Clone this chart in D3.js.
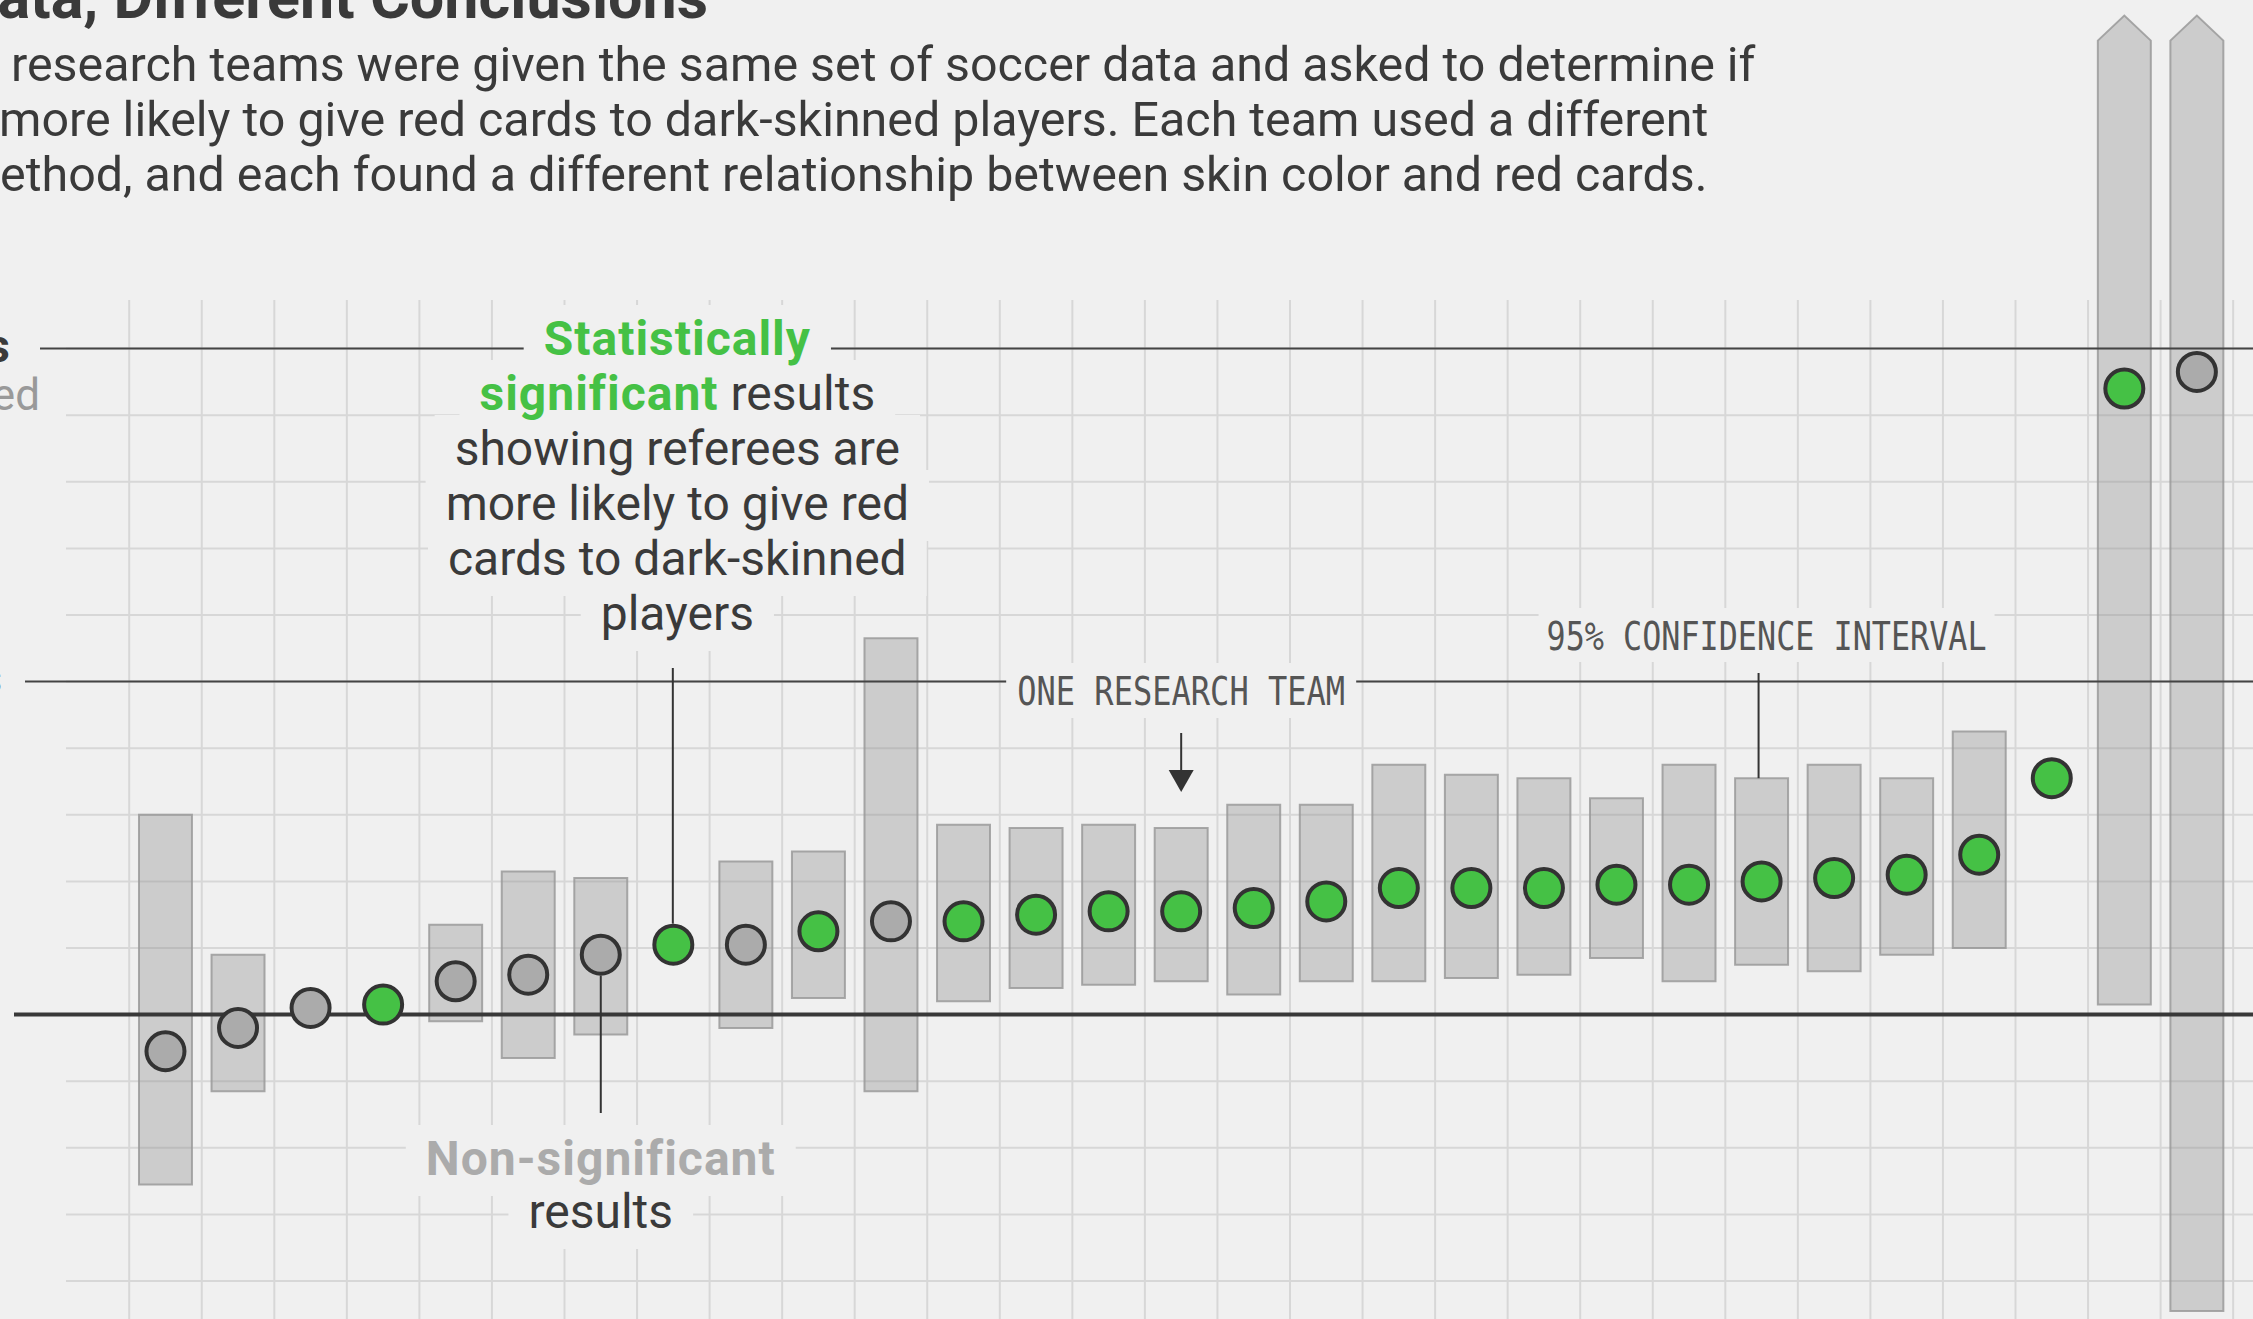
<!DOCTYPE html>
<html><head><meta charset="utf-8">
<script src="https://cdn.jsdelivr.net/npm/d3@7"></script>
<style>
html,body{margin:0;padding:0;background:#f0f0f0;overflow:hidden}
svg{display:block}
</style></head><body>
<svg id="chart" width="2253" height="1319"></svg>
<script>
// ---------------- DATA ----------------
const teams = ["1","2","3","4","5","6","7","8","9","10","11","12","13","14","15","16","17","18","19","20","21","22","23","24","25","26","27","28","29"];
const oddsRatio = [0.89,0.96,1.02,1.03,1.10,1.12,1.18,1.21,1.21,1.25,1.28,1.28,1.30,1.31,1.31,1.32,1.34,1.38,1.38,1.38,1.39,1.39,1.40,1.41,1.42,1.48,1.71,2.88,2.93];
const ciLow  = [0.49,0.77,null,null,0.98,0.87,0.94,null,0.96,1.05,0.77,1.04,1.08,1.09,1.10,1.06,1.10,1.10,1.11,1.12,1.17,1.10,1.15,1.13,1.18,1.20,null,1.03,0.11];
const ciHigh = [1.60,1.18,null,null,1.27,1.43,1.41,null,1.46,1.49,2.13,1.57,1.56,1.57,1.56,1.63,1.63,1.75,1.72,1.71,1.65,1.75,1.71,1.75,1.71,1.85,null,11.47,78.66];
const significant = [false,false,false,true,false,false,false,true,false,true,false,true,true,true,true,true,true,true,true,true,true,true,true,true,true,true,true,true,false];
const gridTicks = [0.2,0.4,0.6,0.8,1.0,1.2,1.4,1.6,1.8,2.0,2.2,2.4,2.6,2.8,3.0];
const refLines = [1,2,3];
const titleText = "Same Data, Different Conclusions";
const subtitleLines = [
  "Twenty-nine research teams were given the same set of soccer data and asked to determine if",
  "referees are more likely to give red cards to dark-skinned players. Each team used a different",
  "statistical method, and each found a different relationship between skin color and red cards."
];

// ---------------- LAYOUT ----------------
const W = 2253, H = 1319;
const BG = "#f0f0f0";
const GREEN = "#45c145";
const DARK = "#3a3a3a";
const SANS = "Roboto, 'Noto Sans', sans-serif";
const MONO = "'DejaVu Sans Mono', 'Liberation Mono', monospace";

const svg = d3.select("#chart");
svg.append("rect").attr("width", W).attr("height", H).attr("fill", BG);

const x = d3.scaleBand().domain(teams).range([129.2, 2233.15]).paddingInner(0.27).paddingOuter(0.135);
const y = d3.scaleLinear().domain([0, 4]).range([1347.6, 15.6]);
const yMax = y.domain()[1];
const cx = t => x(t) + x.bandwidth() / 2;

const data = teams.map((t, i) => ({t, or: oddsRatio[i], lo: ciLow[i], hi: ciHigh[i], sig: significant[i]}));

const gGrid = svg.append("g");
const gBars = svg.append("g");
const gRef = svg.append("g");
const gMask = svg.append("g");
const gText = svg.append("g");
const gLead = svg.append("g");
const gPts = svg.append("g");

// grid
gGrid.selectAll("line.h").data(gridTicks).join("line").attr("class", "h")
  .attr("x1", 66).attr("x2", W).attr("y1", d => y(d)).attr("y2", d => y(d))
  .attr("stroke", "#d7d7d7").attr("stroke-width", 2);
const vx = d3.range(teams.length + 1).map(i => x.range()[0] + i * x.step());
gGrid.selectAll("line.v").data(vx).join("line").attr("class", "v")
  .attr("x1", d => d).attr("x2", d => d).attr("y1", 300).attr("y2", H)
  .attr("stroke", "#d7d7d7").attr("stroke-width", 2);

// bars (95% CI)
function barPath(d) {
  const x0 = x(d.t), x1 = x0 + x.bandwidth(), yb = y(d.lo);
  if (d.hi <= yMax) {
    const yt = y(d.hi);
    return `M${x0},${yb}V${yt}H${x1}V${yb}Z`;
  }
  const yt = y(yMax), ys = yt + 25, xm = (x0 + x1) / 2;
  return `M${x0},${yb}V${ys}L${xm},${yt}L${x1},${ys}V${yb}Z`;
}
gBars.selectAll("path").data(data.filter(d => d.lo != null)).join("path")
  .attr("d", barPath)
  .attr("fill", "#8c8c8c").attr("fill-opacity", 0.36)
  .attr("stroke", "#9a9a9a").attr("stroke-width", 2).attr("stroke-opacity", 0.85);

// reference lines
const refStart = {1: 14, 2: 25, 3: 40};
gRef.selectAll("line").data(refLines).join("line")
  .attr("x1", d => refStart[d]).attr("x2", W)
  .attr("y1", d => y(d)).attr("y2", d => y(d))
  .attr("stroke", d => d === 1 ? "#383838" : "#444")
  .attr("stroke-width", d => d === 1 ? 4 : 2);

// title and subtitle
gText.append("text").attr("x", 708).attr("y", 18).attr("text-anchor", "end")
  .attr("font-family", SANS).attr("font-weight", 700).attr("font-size", 61)
  .attr("fill", DARK).text(titleText);

const sub = gText.append("g").attr("font-family", SANS).attr("font-size", 46).attr("fill", DARK);
const subT = sub.selectAll("text").data(subtitleLines).join("text")
  .attr("x", 0).attr("y", (d, i) => 81 + i * 55).text(d => d);
// visible start of each line in the cropped reference: [char index, x]
const subAnchor = [[12, 11], [13, -1], [13, 0]];
{
  const n = subT.node();
  const p = n.getStartPositionOfChar(12).x;
  const endX = n.getEndPositionOfChar(subtitleLines[0].length - 1).x;
  const fs = 46 * (1745 / (endX - p));
  sub.attr("font-size", fs);
  subT.each(function(d, i) {
    const px = this.getStartPositionOfChar(subAnchor[i][0]).x;
    d3.select(this).attr("x", subAnchor[i][1] - px);
  });
}

// left axis fragments
gText.append("text").attr("x", 10).attr("y", 362).attr("text-anchor", "end")
  .attr("font-family", SANS).attr("font-weight", 700).attr("font-size", 46).attr("fill", DARK)
  .text("Three times");
gText.append("text").attr("x", 40).attr("y", 410).attr("text-anchor", "end")
  .attr("font-family", SANS).attr("font-size", 44).attr("fill", "#999")
  .text("as likely to be red-carded");
gText.append("text").attr("x", 2).attr("y", 694).attr("text-anchor", "end")
  .attr("font-family", SANS).attr("font-weight", 700).attr("font-size", 46).attr("fill", DARK)
  .text("Two times");

// annotation blocks with background masks
function block(lines, centerX, base, lh, opts) {
  lines.forEach((spans, i) => {
    const by = base + i * lh;
    const t = gText.append("text").attr("x", centerX).attr("y", by).attr("text-anchor", "middle")
      .attr("font-family", opts.family).attr("font-size", opts.size);
    spans.forEach(s => {
      t.append("tspan").attr("font-weight", s.b ? 700 : 400).attr("fill", s.c || DARK)
        .attr("letter-spacing", s.b ? (opts.lsBold || 0) : 0).text(s.t);
    });
    if (opts.len) t.attr("textLength", opts.len).attr("lengthAdjust", "spacingAndGlyphs");
    const bb = t.node().getBBox();
    gMask.append("rect").attr("x", bb.x - opts.padX).attr("width", bb.width + 2 * opts.padX)
      .attr("y", by - opts.up).attr("height", opts.up + opts.down).attr("fill", BG);
  });
}

block([
  [{t: "Statistically", b: true, c: GREEN}],
  [{t: "significant", b: true, c: GREEN}, {t: " results"}],
  [{t: "showing referees are"}],
  [{t: "more likely to give red"}],
  [{t: "cards to dark-skinned"}],
  [{t: "players"}]
], cx("8") + 4, 355, 55, {family: SANS, size: 48, padX: 20, up: 50, down: 21, lsBold: 1});

block([
  [{t: "Non-significant", b: true, c: "#ababab"}],
  [{t: "results"}]
], cx("7"), 1175, 53, {family: SANS, size: 48, padX: 20, up: 50, down: 21, lsBold: 1});

block([[{t: "ONE RESEARCH TEAM", c: "#555"}]], cx("15"), 705, 0,
  {family: MONO, size: 39, padX: 11, up: 42, down: 13, len: 328});
block([[{t: "95% CONFIDENCE INTERVAL", c: "#555"}]], cx("23") + 5, 650, 0,
  {family: MONO, size: 39, padX: 8, up: 42, down: 12, len: 440});

// leaders
const lead = (x1, y1, x2, y2) => gLead.append("line").attr("x1", x1).attr("x2", x2)
  .attr("y1", y1).attr("y2", y2).attr("stroke", "#333").attr("stroke-width", 2);
lead(cx("8") - 0.5, 668, cx("8") - 0.5, y(oddsRatio[7]) - 21);
lead(cx("7"), y(oddsRatio[6]) + 21, cx("7"), 1113);
lead(cx("23") - 3, 673, cx("23") - 3, y(ciHigh[22]));
// arrow
const ax = cx("15");
lead(ax, 733, ax, 775);
gLead.append("path").attr("d", `M${ax - 12.5},770L${ax + 12.5},770L${ax},792Z`).attr("fill", "#333");

// points
gPts.selectAll("circle").data(data).join("circle")
  .attr("cx", d => cx(d.t)).attr("cy", d => y(d.or)).attr("r", 19)
  .attr("fill", d => d.sig ? GREEN : "#ababab")
  .attr("stroke", "#333").attr("stroke-width", 4);
</script>
</body></html>
